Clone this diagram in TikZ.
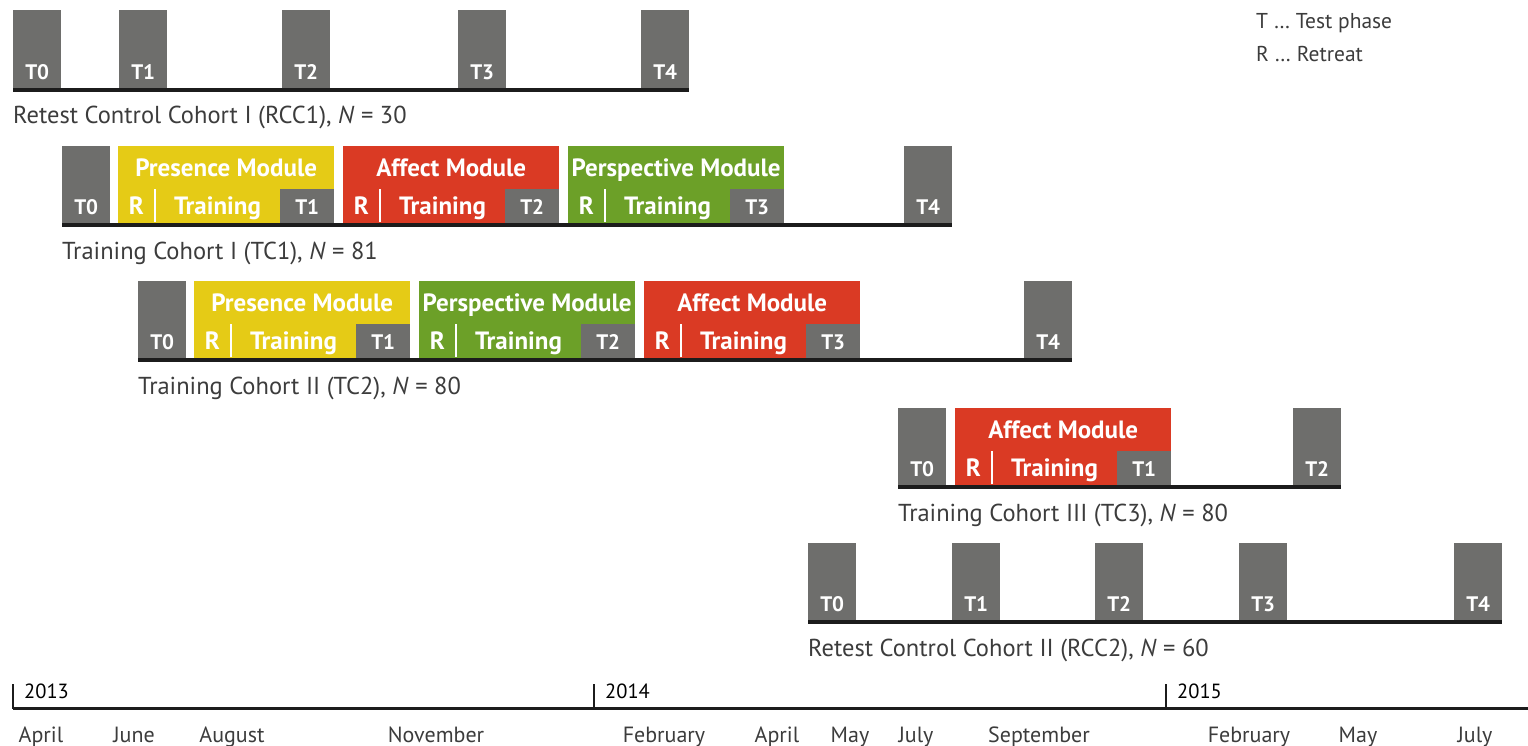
\documentclass[tikz,border=0pt]{standalone}
\usepackage{fontspec}
\setmainfont{PT Sans}
\usetikzlibrary{calc}

\definecolor{tgray}{RGB}{110,110,108}
\definecolor{presY}{RGB}{229,203,22}
\definecolor{affR}{RGB}{218,58,36}
\definecolor{perspG}{RGB}{108,160,40}
\definecolor{lineblk}{RGB}{28,28,28}
\definecolor{txtgray}{RGB}{60,60,60}

\tikzset{
  tlab/.style={anchor=base, inner sep=0pt, text=white, font=\fontsize{21}{25}\selectfont\bfseries},
  wlab/.style={tlab, font=\fontsize{25}{29}\selectfont\bfseries},
  testbox/.style={fill=tgray, minimum width=48pt, minimum height=79pt, inner sep=0pt, anchor=south west,
    label={[tlab,yshift=10.5pt]south:#1}},
  testsub/.style={fill=tgray, minimum width=54pt, minimum height=36pt, inner sep=0pt, anchor=south east,
    label={[tlab,yshift=10.5pt]south:#1}},
  modbox/.style={fill=#1, minimum width=216pt, minimum height=79pt, inner sep=0pt, anchor=south west},
  cline/.style={draw=lineblk, line width=4pt},
  sep/.style={draw=white, line width=2pt},
  cohort/.style={anchor=base west, inner sep=0pt, text=txtgray, font=\fontsize{24.5}{28}\selectfont},
  legend/.style={cohort, font=\fontsize{21.5}{25}\selectfont},
  month/.style={anchor=base, inner sep=0pt, text=txtgray, font=\fontsize{22}{26}\selectfont},
  year/.style={anchor=base west, inner sep=0pt, text=black, font=\fontsize{20.5}{24}\selectfont}
}

\begin{document}
\begin{tikzpicture}[x=1pt,y=-1pt]
  \useasboundingbox (0,0) rectangle (1528,745);

  % legend
  \node[legend] (legT) at (1256,28) {T … Test phase};
  \node[legend] (legR) at (1256,61) {R … Retreat};

  % Retest Control Cohort I
  \foreach \i/\x in {0/13,1/119,2/282,3/458,4/641}
    {\node[testbox=T\i] (a\i) at (\x,89.5) {};}
  \draw[cline] (a0.south west) -- (a4.south east);
  \node[cohort] (labA) at ([yshift=-34pt]a0.south west) {Retest Control Cohort I (RCC1), \textit{N} = 30};

  % Training Cohort I
  \node[testbox=T0] (b0) at (62,225) {};
  \node[testbox=T4] (b4) at (904,225) {};

  % Training Cohort II
  \node[testbox=T0] (c0) at (138,360) {};
  \node[testbox=T4] (c4) at (1024,360) {};

  % Training Cohort III
  \node[testbox=T0] (d0) at (898,487) {};
  \node[testbox=T2] (d2) at (1293,487) {};

  % modules: name/x/y/colour/title/test
  \foreach \m/\x/\y/\col/\title/\t in {
      b1/118/225/presY/Presence Module/T1, b2/343/225/affR/Affect Module/T2, b3/568/225/perspG/Perspective Module/T3,
      c1/194/360/presY/Presence Module/T1, c2/419/360/perspG/Perspective Module/T2, c3/644/360/affR/Affect Module/T3,
      d1/955/487/affR/Affect Module/T1}
    {
      \node[modbox=\col, label={[wlab,yshift=-31pt]north:\title}] (\m) at (\x,\y) {};
      \node[testsub=\t] (t\m) at (\m.south east) {};
      \node[wlab] (r\m) at ([xshift=18.5pt,yshift=10.5pt]\m.south west) {R};
      \node[wlab] (tr\m) at ([xshift=99.5pt,yshift=10.5pt]\m.south west) {Training};
      \draw[sep] ([xshift=37pt,yshift=3pt]\m.south west) -- ([xshift=37pt,yshift=36pt]\m.south west);
    }

  \draw[cline] (b0.south west) -- (b4.south east);
  \node[cohort] (labB) at ([yshift=-34pt]b0.south west) {Training Cohort I (TC1), \textit{N} = 81};
  \draw[cline] (c0.south west) -- (c4.south east);
  \node[cohort] (labC) at ([yshift=-34pt]c0.south west) {Training Cohort II (TC2), \textit{N} = 80};
  \draw[cline] (d0.south west) -- (d2.south east);
  \node[cohort] (labD) at ([yshift=-34pt]d0.south west) {Training Cohort III (TC3), \textit{N} = 80};

  % Retest Control Cohort II
  \foreach \i/\x in {0/808,1/952,2/1095,3/1239,4/1454}
    {\node[testbox=T\i] (e\i) at (\x,622) {};}
  \draw[cline] (e0.south west) -- (e4.south east);
  \node[cohort] (labE) at ([yshift=-34pt]e0.south west) {Retest Control Cohort II (RCC2), \textit{N} = 60};

  % time axis
  \coordinate (ax0) at (13,708.5);
  \coordinate (ax1) at (1528,708.5);
  \draw[draw=lineblk, line width=3pt] (ax0) -- (ax1);
  \foreach \yr/\x in {2013/13,2014/594,2015/1166}
    {
      \coordinate (y\yr) at (\x,708.5);
      \draw[draw=lineblk, line width=2.5pt] (y\yr) -- ++(0,-25);
      \node[year] (ly\yr) at ([xshift=11pt,yshift=10pt]y\yr) {\yr};
    }
  \foreach \mo/\x in {April/41,June/134,August/232,November/436,February/664,April/777,May/850,July/916,September/1039,February/1249,May/1358,July/1475}
    {\node[month] at (\x,742) {\mo};}
\end{tikzpicture}
\end{document}
